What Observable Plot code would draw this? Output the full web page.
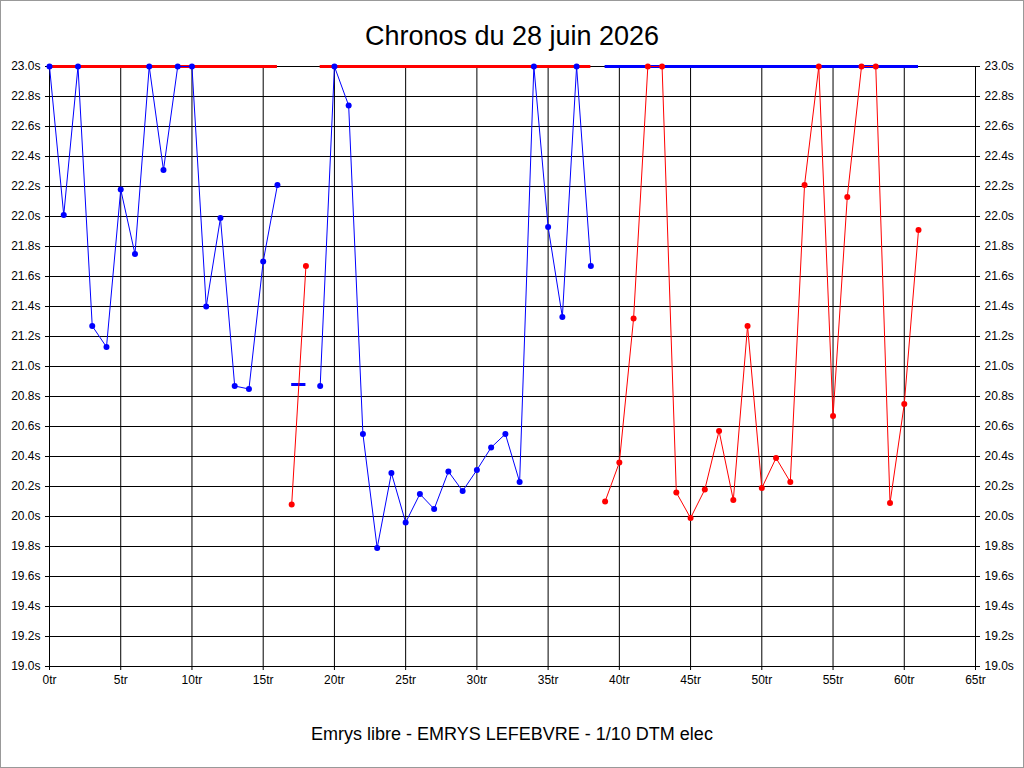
<!DOCTYPE html>
<html><head><meta charset="utf-8">
<script src="https://cdn.jsdelivr.net/npm/d3@7"></script>
<script src="https://cdn.jsdelivr.net/npm/@observablehq/plot@0.6"></script>
<style>
body{margin:0;font-family:"Liberation Sans",Arial,sans-serif;background:#fff}
#wrap{width:1024px;height:768px;box-sizing:border-box;border:1px solid #999;position:relative;overflow:hidden}
#title{height:56px;text-align:center;font-size:27px;line-height:72px;margin-top:-1px}
#cap{text-align:center;font-size:18px;margin-top:28px}
svg{display:block}
</style></head><body>
<div id="wrap"><div id="title">Chronos du 28 juin 2026</div><div id="chart"></div><div id="cap">Emrys libre - EMRYS LEFEBVRE - 1/10 DTM elec</div></div>
<script>
const laps = d3.range(0,62);
const times = [23.0,22.01,23.0,21.27,21.13,22.18,21.75,23.0,22.31,23.0,23.0,21.40,21.99,20.87,20.85,21.70,22.21,
20.08,21.67,
20.87,23.0,22.74,20.55,19.79,20.29,19.96,20.15,20.05,20.30,20.17,20.31,20.46,20.55,20.23,23.0,21.93,21.33,23.0,21.67,
20.10,20.36,21.32,23.0,23.0,20.16,19.99,20.18,20.57,20.11,21.27,20.19,20.39,20.23,22.21,23.0,20.67,22.13,23.0,23.0,20.09,20.75,21.91];
const segStart = [0,17,19,39];
const segEnd = [16,18,38,61];
const segColor = ["blue","red","blue","red"];
const barY = [23.0,20.88,23.0,23.0];
const barColor = ["red","blue","red","blue"];
const xTicks = d3.range(0,66,5);
const yTicks = d3.range(0,21).map(i=>+(19+i*0.2).toFixed(1));

const data = laps.map((l,i)=>{const s=segStart.findIndex((a,k)=>l>=a&&l<=segEnd[k]);return {lap:l,t:times[i],seg:s,color:segColor[s]};});
const bars = segStart.map((a,k)=>({x1:a,x2:segEnd[k],y:barY[k],color:barColor[k]}));

const chart = Plot.plot({
  width:1022,height:640,marginTop:10,marginBottom:30,marginLeft:48,marginRight:48,
  x:{domain:[0,65],ticks:xTicks,tickFormat:d=>d+"tr"},
  y:{domain:[19,23],ticks:yTicks,tickFormat:d=>d.toFixed(1)+"s"},
  style:{fontFamily:"Liberation Sans, Arial, sans-serif",fontSize:"12px",color:"black",background:"white"},
  marks:[
    Plot.gridX(xTicks,{stroke:"black",strokeOpacity:1}),
    Plot.gridY(yTicks,{stroke:"black",strokeOpacity:1}),
    Plot.frame({stroke:"black"}),
    Plot.axisX({ticks:xTicks,tickFormat:d=>d+"tr",label:null,tickSize:4}),
    Plot.axisY({anchor:"left",ticks:yTicks,tickFormat:d=>d.toFixed(1)+"s",label:null,tickSize:4}),
    Plot.axisY({anchor:"right",ticks:yTicks,tickFormat:d=>d.toFixed(1)+"s",label:null,tickSize:4}),
    Plot.ruleY(bars,{y:"y",x1:"x1",x2:"x2",stroke:"color",strokeWidth:3}),
    Plot.line(data,{x:"lap",y:"t",z:"seg",stroke:"color",strokeWidth:1}),
    Plot.dot(data,{x:"lap",y:"t",fill:"color",r:3})
  ]
});
document.getElementById("chart").append(chart);
</script></body></html>
